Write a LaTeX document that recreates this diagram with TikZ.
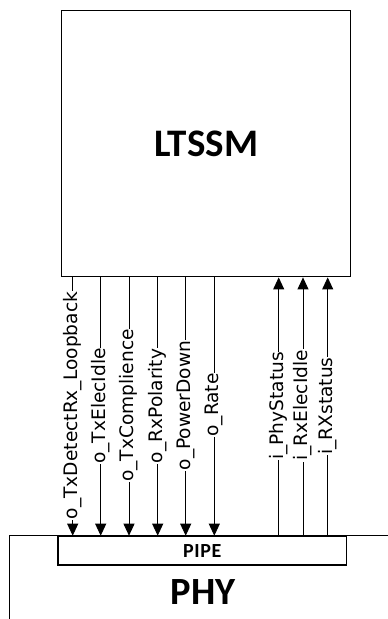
\documentclass[tikz,border=0pt]{standalone}
\usepackage{fontspec}
\setmainfont{Carlito}
\newfontfamily\sigfont{DejaVu Sans}
\usetikzlibrary{arrows.meta}
\begin{document}
\begin{tikzpicture}[x=1pt,y=-1pt,
  blockbox/.style={draw, line width=1.4pt, inner sep=0pt, anchor=north west},
  sig/.style={line width=0.9pt, -{Triangle[length=12pt,width=11pt]}},
  lab/.style={rotate=90, fill=white, inner sep=0.6pt, font=\sigfont\fontsize{18.6}{18.6}\selectfont}]
\useasboundingbox (0,0) rectangle (388,619);
% blocks
\node[blockbox, minimum width=289pt, minimum height=266pt,
      font=\bfseries\fontsize{39}{39}\selectfont] (ltssm) at (61,10) {LTSSM};
\draw[line width=1.3pt] (395,535.7) -- (9.3,535.7) -- (9.3,630);
\node[font=\bfseries\fontsize{38.5}{38.5}\selectfont] (phy) at (203,592) {PHY};
\node[blockbox, line width=1.2pt, minimum width=288.7pt, minimum height=28.6pt,
      font=\bfseries\fontsize{20}{20}\selectfont] (pipe) at (57.3,535.7) {P\kern0.6pt I\kern0.6pt P\kern0.6pt E};
% signal positions
\coordinate (s1) at (72.7,0);
\coordinate (s2) at (100.7,0);
\coordinate (s3) at (129,0);
\coordinate (s4) at (157.7,0);
\coordinate (s5) at (185.7,0);
\coordinate (s6) at (214.3,0);
\coordinate (s7) at (278.7,0);
\coordinate (s8) at (303,0);
\coordinate (s9) at (327.7,0);
% outputs
\foreach \s in {s1,s2,s3,s4,s5,s6}
  \draw[sig] (ltssm.south -| \s) -- (pipe.north -| \s);
% inputs
\foreach \s in {s7,s8,s9}
  \draw[sig] (pipe.north -| \s) -- (ltssm.south -| \s);
% labels
\node[lab] (l1) at (72.7,405.5) {o\_TxDetectRx\_Loopback};
\node[lab] (l2) at (100.7,406) {o\_TxElecIdle};
\node[lab] (l3) at (129,405.5) {o\_TxComplience};
\node[lab] (l4) at (157.7,406) {o\_RxPolarity};
\node[lab] (l5) at (185.7,405.5) {o\_PowerDown};
\node[lab] (l6) at (214.3,405) {o\_Rate};
\node[lab] (l7) at (278.7,406) {i\_PhyStatus};
\node[lab] (l8) at (303,405.5) {i\_RxElecIdle};
\node[lab] (l9) at (327.7,406) {i\_RXstatus};
\end{tikzpicture}
\end{document}
